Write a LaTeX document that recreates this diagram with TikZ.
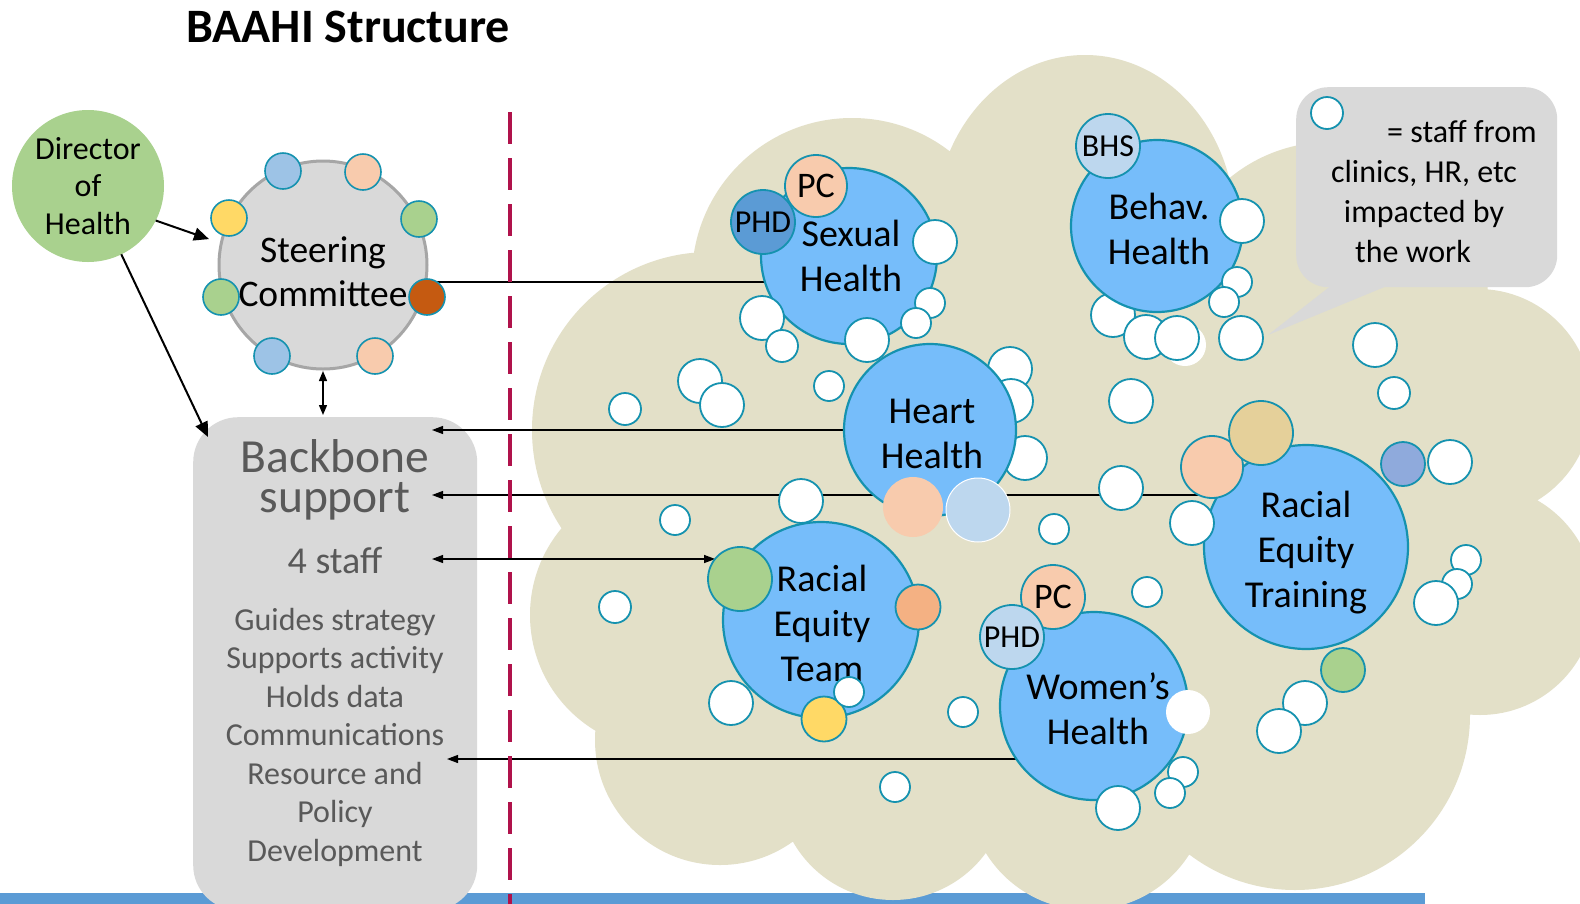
\documentclass[tikz,border=0pt]{standalone}
\usepackage{fontspec}
\setmainfont{Carlito}
\usetikzlibrary{arrows.meta,calc}
\pgfdeclarelayer{back}
\pgfdeclarelayer{lines}
\pgfsetlayers{back,lines,main}
\definecolor{cloudc}{HTML}{E3E0C8}
\definecolor{bigblue}{HTML}{76BDFA}
\definecolor{tealc}{HTML}{1592AF}
\definecolor{greyfill}{HTML}{D9D9D9}
\definecolor{greyedge}{HTML}{A6A6A6}
\definecolor{dirgreen}{HTML}{A9D18E}
\definecolor{peach}{HTML}{F8CBAD}
\definecolor{lblue}{HTML}{9DC3E6}
\definecolor{paleblue}{HTML}{BDD7EE}
\definecolor{midblue}{HTML}{5B9BD5}
\definecolor{yellowc}{HTML}{FFD966}
\definecolor{darkorange}{HTML}{C55A11}
\definecolor{orangec}{HTML}{F4B183}
\definecolor{tanc}{HTML}{E5D09A}
\definecolor{purpleblue}{HTML}{8FAADC}
\definecolor{crimson}{HTML}{B0124B}
\definecolor{bbtext}{HTML}{595959}
\begin{document}
\begin{tikzpicture}[x=1pt,y=-1pt,
  circ/.style={circle,inner sep=0pt,outer sep=0pt},
  d44/.style={minimum size=44pt},
  d30/.style={minimum size=30pt},
  d32/.style={minimum size=32pt},
  wdot/.style={circ,fill=white,draw=tealc,line width=1.8pt},
  wblob/.style={circ,fill=white},
  bigc/.style={circ,fill=bigblue,draw=tealc,line width=2.2pt},
  bigtext/.style={align=center,font=\fontsize{38}{45}\selectfont},
  sat/.style={circ,draw=tealc,line width=1.8pt,font=\fontsize{36}{40}\selectfont},
  satsmall/.style={sat,font=\fontsize{32}{36}\selectfont},
  scdot/.style={circ,draw=tealc,line width=1.6pt,minimum size=36pt},
  conn/.style={line width=1.1pt,draw=black},
  ltip/.style={-{Triangle[length=11pt,width=8pt]}},
  bigarrow/.style={line width=2pt,-{Triangle[length=15pt,width=13pt]}},
  bbt/.style={align=center,text=bbtext},
]
\useasboundingbox (0,0) rectangle (1580,903);
\clip (0,0) rectangle (1580,903);

% ---------- background layer ----------
\begin{pgfonlayer}{back}
\fill[white] (0,0) rectangle (1580,903);
\fill[midblue] (0,893) rectangle (1425,915);
\node[rectangle,rounded corners=45pt,fill=greyfill,minimum width=284pt,minimum height=493pt,anchor=north west,inner sep=0pt] (bb) at (193,417) {};
\fill[cloudc]
  (852,278) circle[radius=160pt]
  (1085,225) ellipse[x radius=150pt,y radius=170pt]
  (1330,300) circle[radius=158pt]
  (1478,403) circle[radius=114pt]
  (1480,600) circle[radius=115pt]
  (1295,715) circle[radius=175pt]
  (1088,790) circle[radius=120pt]
  (893,785) circle[radius=115pt]
  (720,740) circle[radius=125pt]
  (665,615) circle[radius=135pt]
  (710,430) circle[radius=178pt]
  (1000,450) circle[radius=300pt]
  (1350,500) circle[radius=150pt];
% callout
\node[rectangle,rounded corners=32pt,fill=greyfill,minimum width=261pt,minimum height=200pt,anchor=north west,inner sep=0pt] (callout) at (1296,87) {};
\coordinate (ctip) at (1268,335);
\fill[greyfill] ($(callout.south west)+(43,-8)$) -- (ctip) -- ($(callout.south west)+(107,-8)$) -- cycle;
\end{pgfonlayer}

% ---------- title ----------
\node[anchor=base,font=\bfseries\fontsize{48}{56}\selectfont] (title) at (348,42) {BAAHI Structure};

% ---------- left side ----------
\node[circ,fill=dirgreen,minimum size=152pt,align=center,font=\fontsize{32}{37.5}\selectfont] (dir) at (88,186) {Director\\of\\Health};

\node[circ,fill=greyfill,draw=greyedge,line width=3pt,minimum size=208pt] (sc) at (323,265) {};
\node[scdot,fill=lblue] (sc1) at (283,171) {};
\node[scdot,fill=peach] (sc2) at (363,172) {};
\node[scdot,fill=yellowc] (sc3) at (229,218) {};
\node[scdot,fill=dirgreen] (sc4) at (419,219) {};
\node[scdot,fill=dirgreen] (sc5) at (221,297) {};
\node[scdot,fill=darkorange] (sc6) at (427,297) {};
\node[scdot,fill=lblue] (sc7) at (272,356) {};
\node[scdot,fill=peach] (sc8) at (375,356) {};
\node[align=center,font=\fontsize{37.5}{44}\selectfont] (sctext) at (323,272) {Steering\\Committee};

\node[bbt,font=\fontsize{47.5}{50}\selectfont,anchor=base] (bbtitle) at (335,472) {Backbone};
\node[bbt,font=\fontsize{47.5}{50}\selectfont,anchor=base] (bbsupport) at (335,512) {support};
\node[bbt,font=\fontsize{38}{43}\selectfont,anchor=base] (bbstaff) at (335,573) {4 staff};
\node[bbt,font=\fontsize{32}{38.5}\selectfont] (bblist) at (335,737) {Guides strategy\\Supports activity\\Holds data\\Communications\\Resource and\\Policy\\Development};

\coordinate (dirbbend) at (208,437);
\draw[bigarrow,shorten >=13pt] (dir.-27) -- (sc.168);
\draw[bigarrow] (dir.-64) -- (dirbbend);
\draw[line width=1.4pt,{Triangle[length=10pt,width=8pt]}-{Triangle[length=10pt,width=8pt]},shorten <=2pt,shorten >=2pt] (sc.south) -- (sc.south |- bb.north);

% ---------- cloud contents ----------
% whites behind big circles
\node[wdot,d44] (w11) at (1010,369) {};
\node[wdot,d44] (w12) at (1011,401) {};
\node[wdot,d44] (w13) at (1025,458) {};
\node[wdot,d44] (w42) at (1113,315) {};
\node[wdot,d44] (w43) at (1146,337) {};
\node[wblob,minimum size=42pt] (w45) at (1185,345) {};
\node[wdot,d44] (w44) at (1177,338) {};

% Sexual Health
\node[bigc,minimum size=176pt] (sh) at (849,256) {};
\node[bigtext] (shtext) at (851,256) {Sexual\\Health};
\node[sat,fill=peach,minimum size=62pt] (shpc) at (816,186) {PC};
\node[satsmall,fill=midblue,minimum size=64pt] (shphd) at (763,222) {PHD};
\node[wdot,d44] (w1) at (935,242) {};
\node[wdot,d30] (w2) at (930,303) {};
\node[wdot,d30] (w3) at (916,323) {};
\node[wdot,d44] (w4) at (867,340) {};
\node[wdot,d44] (w5) at (762,318) {};
\node[wdot,d32] (w6) at (782,346) {};
\node[wdot,d44] (w7) at (700,381) {};
\node[wdot,d44] (w8) at (722,405) {};
\node[wdot,d32] (w9) at (625,409) {};
\node[wdot,d30] (w10) at (829,386) {};

% Behav. Health
\node[bigc,minimum size=172pt] (bh) at (1157,226) {};
\node[bigtext] (bhtext) at (1159,229) {Behav.\\Health};
\node[satsmall,fill=paleblue,minimum size=64pt] (bhs) at (1108,146) {BHS};
\node[wdot,d44] (w38) at (1242,221) {};
\node[wdot,d30] (w39) at (1237,282) {};
\node[wdot,d30] (w40) at (1224,302) {};
\node[wdot,d44] (w41) at (1241,338) {};

% Heart Health
\node[bigc,minimum size=172pt] (hh) at (930,430) {};
\node[bigtext] (hhtext) at (932,434) {Heart\\Health};
\node[circ,fill=peach,minimum size=60pt] (hhpc) at (913,507) {};
\node[circ,fill=paleblue,draw=white,line width=1pt,minimum size=64pt] (hhpb) at (978,510) {};
\node[wdot,d44] (w14) at (801,501) {};
\node[wdot,d30] (w15) at (675,520) {};
\node[wdot,d30] (w16) at (1054,529) {};
\node[wdot,d44] (w17) at (1121,488) {};
\node[wdot,d44] (w18) at (1131,401) {};
\node[wdot,d44] (w20) at (1375,345) {};
\node[wdot,d32] (w21) at (1394,393) {};

% Racial Equity Training
\node[bigc,minimum size=204pt] (ret) at (1306,547) {};
\node[bigtext] (rettext) at (1306,553) {Racial\\Equity\\Training};
\node[sat,fill=peach,minimum size=62pt] (retpc) at (1212,467) {};
\node[sat,fill=tanc,minimum size=64pt] (rettan) at (1261,433) {};
\node[sat,fill=purpleblue,d44] (retpb) at (1403,464) {};
\node[wdot,d44] (w22) at (1450,462) {};
\node[wdot,d44] (w19) at (1192,523) {};
\node[wdot,d30] (w23) at (1466,560) {};
\node[wdot,d30] (w24) at (1457,584) {};
\node[wdot,d44] (w25) at (1436,603) {};
\node[sat,fill=dirgreen,d44] (retgr) at (1343,670) {};
\node[wdot,d44] (w26) at (1305,703) {};
\node[wdot,d44] (w27) at (1279,731) {};

% Racial Equity Team
\node[bigc,minimum size=196pt] (rtm) at (821,620) {};
\node[bigtext] (rtmtext) at (822,623) {Racial\\Equity\\Team};
\node[sat,fill=dirgreen,minimum size=64pt] (rtmgr) at (740,579) {};
\node[sat,fill=orangec,minimum size=45pt] (rtmor) at (918,607) {};
\node[sat,fill=yellowc,minimum size=45pt] (rtmye) at (824,719) {};
\node[wdot,d30] (w32) at (849,692) {};
\node[wdot,d44] (w31) at (731,703) {};
\node[wdot,d32] (w33) at (615,607) {};
\node[wdot,d30] (w30) at (895,787) {};
\node[wdot,d30] (w29) at (963,712) {};

% Women's Health
\node[bigc,minimum size=188pt] (wh) at (1094,706) {};
\node[bigtext] (whtext) at (1098,709) {Women’s\\Health};
\node[sat,fill=peach,minimum size=64pt] (whpc) at (1053,597) {PC};
\node[satsmall,fill=paleblue,minimum size=64pt] (whphd) at (1012,637) {PHD};
\node[wdot,d30] (w28) at (1147,592) {};
\node[wblob,d44] (w34) at (1188,712) {};
\node[wdot,d30] (w35) at (1183,772) {};
\node[wdot,d30] (w36) at (1170,793) {};
\node[wdot,d44] (w37) at (1118,808) {};

% callout contents
\node[wdot,d32] (legend) at (1327,113) {};
\node[align=center,font=\fontsize{32}{40}\selectfont] (ctext) at (1424,191.5) {\hspace*{76pt}= staff from\\clinics, HR, etc\\impacted by\\the work\hspace*{22pt}};

% ---------- connectors (below the circles) ----------
\begin{pgfonlayer}{lines}
\coordinate (scl) at (427,282);
\coordinate (bbA) at (432,430);
\coordinate (bbB) at (432,495);
\coordinate (bbC) at (432,559);
\coordinate (bbD) at (447,759);
\draw[conn] (scl) -- (scl -| sh);
\draw[conn,ltip] (bbA -| hh) -- (bbA);
\draw[conn,ltip] (bbB -| retpc) -- (bbB);
\draw[conn,{Triangle[length=11pt,width=8pt]}-{Triangle[length=11pt,width=8pt]}] (bbC) -- (bbC -| rtmgr.141);
\draw[conn,ltip] (bbD -| wh) -- (bbD);
\coordinate (dtop) at (510,112);
\coordinate (dbot) at (510,910);
\draw[crimson,line width=4pt,dash pattern=on 32pt off 14pt] (dtop) -- (dbot);
\end{pgfonlayer}
\end{tikzpicture}
\end{document}
